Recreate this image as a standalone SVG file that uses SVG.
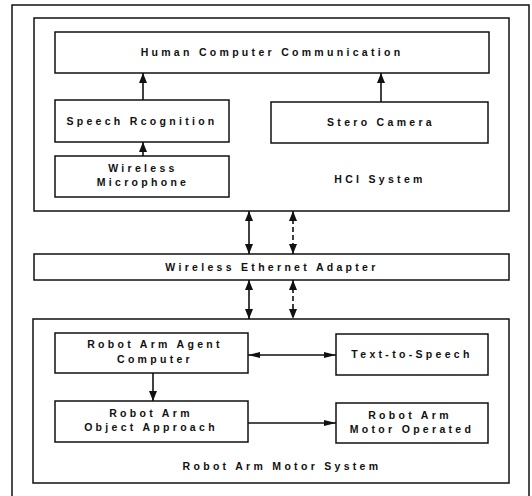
<svg xmlns="http://www.w3.org/2000/svg" width="532" height="496" viewBox="0 0 532 496">
  <defs>
    <style>
      .box { fill: #fff; stroke: #111; stroke-width: 1.5; }
      .frame { fill: none; stroke: #111; stroke-width: 1.5; }
      .lbl { font-family: "Liberation Sans", Arial, sans-serif; font-size: 10.5px; font-weight: bold; letter-spacing: 3.3px; fill: #111; text-anchor: middle; }
      .wire { fill: none; stroke: #111; stroke-width: 1.6; }
      .dash { stroke-dasharray: 5 3; }
    </style>
    <marker id="head" viewBox="0 0 10 8" refX="10" refY="4" markerWidth="10" markerHeight="8" markerUnits="userSpaceOnUse" orient="auto-start-reverse">
      <path d="M0,0 L10,4 L0,8 z" fill="#111"/>
    </marker>
    <marker id="headLong" viewBox="0 0 12 6" refX="12" refY="3" markerWidth="12" markerHeight="6" markerUnits="userSpaceOnUse" orient="auto-start-reverse">
      <path d="M0,0 L12,3 L0,6 z" fill="#111"/>
    </marker>
  </defs>
  <rect width="532" height="496" fill="#fff"/>

  <!-- page frame, runs off the bottom edge -->
  <path class="frame" d="M12,500 V5 H529 V500"/>

  <!-- HCI system container -->
  <g id="hci-system">
    <rect class="box" x="34" y="18" width="475" height="193"/>
    <text class="lbl" x="380" y="183">HCI System</text>
  </g>

  <g id="human-computer-communication">
    <rect class="box" x="55" y="32" width="434" height="41"/>
    <text class="lbl" x="272" y="56">Human  Computer Communication</text>
  </g>

  <g id="speech-recognition">
    <rect class="box" x="55" y="100" width="174" height="42"/>
    <text class="lbl" x="142" y="125">Speech Rcognition</text>
  </g>

  <g id="stereo-camera">
    <rect class="box" x="271" y="102" width="217" height="41"/>
    <text class="lbl" x="381" y="126">Stero Camera</text>
  </g>

  <g id="wireless-microphone">
    <rect class="box" x="55" y="156" width="174" height="41"/>
    <text class="lbl" x="143" y="172">Wireless</text>
    <text class="lbl" x="143" y="186">Microphone</text>
  </g>

  <g id="wireless-ethernet-adapter">
    <rect class="box" x="34" y="254" width="475" height="26"/>
    <text class="lbl" x="272" y="271">Wireless Ethernet Adapter</text>
  </g>

  <!-- robot arm motor system container -->
  <g id="robot-arm-motor-system">
    <rect class="box" x="33" y="319" width="476" height="164"/>
    <text class="lbl" x="282" y="470">Robot Arm  Motor System</text>
  </g>

  <g id="robot-arm-agent-computer">
    <rect class="box" x="55" y="333" width="193" height="40"/>
    <text class="lbl" x="155" y="348">Robot Arm  Agent</text>
    <text class="lbl" x="155" y="363">Computer</text>
  </g>

  <g id="text-to-speech">
    <rect class="box" x="336" y="334" width="152" height="41"/>
    <text class="lbl" x="412" y="358">Text-to-Speech</text>
  </g>

  <g id="robot-arm-object-approach">
    <rect class="box" x="55" y="401" width="193" height="41"/>
    <text class="lbl" x="151" y="417">Robot Arm</text>
    <text class="lbl" x="151" y="431">Object Approach</text>
  </g>

  <g id="robot-arm-motor-operated">
    <rect class="box" x="336" y="403" width="152" height="40"/>
    <text class="lbl" x="410" y="419">Robot Arm</text>
    <text class="lbl" x="412" y="433">Motor Operated</text>
  </g>

  <!-- connectors -->
  <g id="connectors">
    <line class="wire" x1="143" y1="100" x2="143" y2="73" marker-end="url(#head)"/>
    <line class="wire" x1="143" y1="156" x2="143" y2="142" marker-end="url(#head)"/>
    <line class="wire" x1="381" y1="102" x2="381" y2="73" marker-end="url(#head)"/>

    <line class="wire" x1="249" y1="211" x2="249" y2="254" marker-start="url(#head)" marker-end="url(#head)"/>
    <line class="wire dash" x1="293" y1="211" x2="293" y2="254" marker-start="url(#head)" marker-end="url(#head)"/>
    <line class="wire" x1="249" y1="280" x2="249" y2="319" marker-start="url(#head)" marker-end="url(#head)"/>
    <line class="wire dash" x1="293" y1="280" x2="293" y2="319" marker-start="url(#head)" marker-end="url(#head)"/>

    <line class="wire" x1="248" y1="355" x2="336" y2="355" marker-start="url(#headLong)" marker-end="url(#headLong)"/>
    <line class="wire" x1="153" y1="373" x2="153" y2="401" marker-end="url(#head)"/>
    <line class="wire" x1="248" y1="423" x2="336" y2="423" marker-end="url(#headLong)"/>
  </g>
</svg>
